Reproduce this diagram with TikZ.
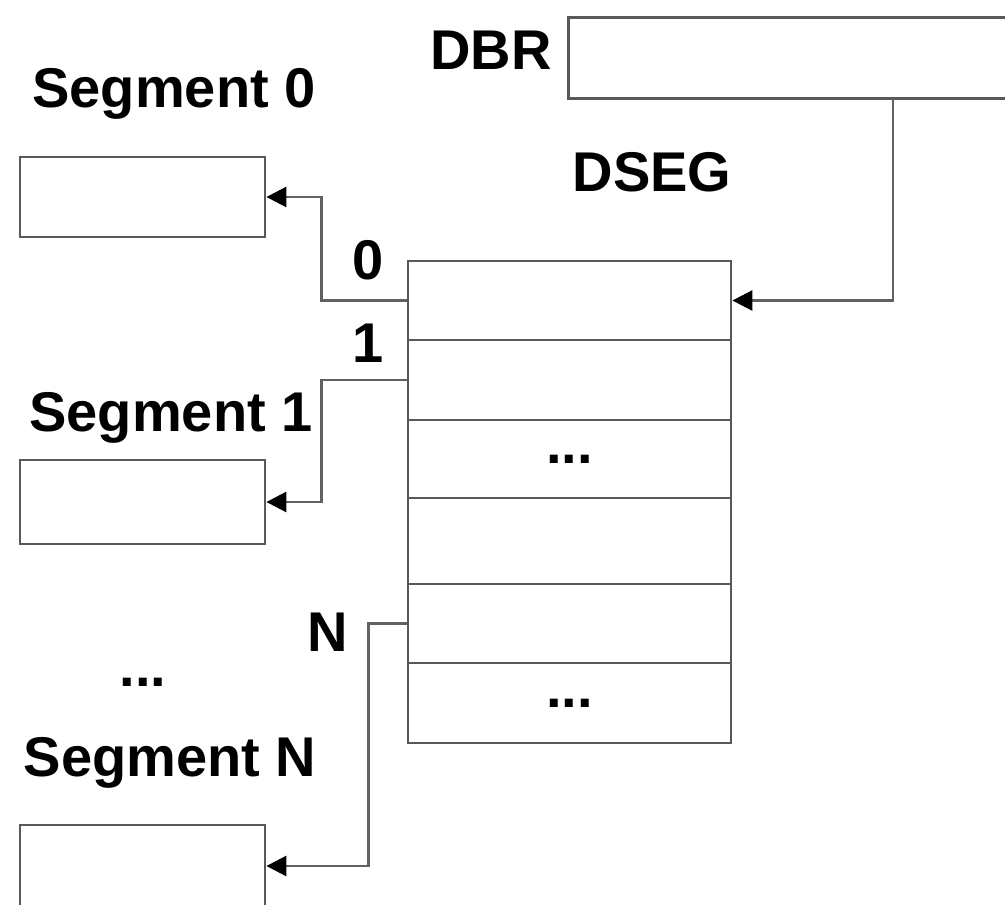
\documentclass[tikz,border=0pt]{standalone}
\usepackage{fontspec}
\setmainfont{Liberation Sans}
\usetikzlibrary{arrows.meta}
\begin{document}
\begin{tikzpicture}[x=1pt,y=-1pt,
  box/.style={draw=black!65,line width=2.8pt,inner sep=0pt,fill=white},
  lbl/.style={inner sep=0pt,font=\fontsize{56}{60}\selectfont\bfseries},
  conn/.style={draw=black!62,line width=2.8pt,-{Triangle[length=20pt,width=20pt,black]}}]
\useasboundingbox (0,0) rectangle (1005,905);
\clip (0,0) rectangle (1005,905);
% DBR register
\node[box,minimum width=460pt,minimum height=81pt,anchor=north west] (dbr) at (567,16) {};
\node[lbl] (dbrl) at (491,50) {DBR};
% DSEG table
\node[lbl] (dsegl) at (652,172) {DSEG};
\node[box,minimum width=323pt,minimum height=79pt] (r0) at (569.5,300.5) {};
\node[box,minimum width=323pt,minimum height=80pt] (r1) at (569.5,380) {};
\node[box,minimum width=323pt,minimum height=78pt] (r2) at (569.5,459) {\fontsize{56}{60}\selectfont\bfseries ...};
\node[box,minimum width=323pt,minimum height=86pt] (r3) at (569.5,541) {};
\node[box,minimum width=323pt,minimum height=79pt] (r4) at (569.5,623.5) {};
\node[box,minimum width=323pt,minimum height=80pt] (r5) at (569.5,703) {\fontsize{56}{60}\selectfont\bfseries ...};
% segments
\node[lbl] (s0l) at (174,94) {Segment 0};
\node[box,minimum width=245pt,minimum height=80pt] (seg0) at (142.5,197) {};
\node[lbl] (s1l) at (171,418) {Segment 1};
\node[box,minimum width=245pt,minimum height=84pt] (seg1) at (142.5,502) {};
\node[lbl] (sdots) at (143,682) {...};
\node[lbl] (sNl) at (170,763) {Segment N};
\node[box,minimum width=245pt,minimum height=82pt] (segN) at (142.5,866) {};
% index labels
\node[lbl] (i0) at (368,260) {0};
\node[lbl] (i1) at (368,343) {1};
\node[lbl] (iN) at (328,632) {N};
% connectors
\coordinate (dbrtap) at (893,97);
\draw[conn] (dbrtap) |- (r0.east);
\draw[conn] (r0.west) -- ++(-85,0) |- (seg0.east);
\draw[conn] (r1.west) -- ++(-85,0) |- (seg1.east);
\draw[conn] (r4.west) -- ++(-38,0) |- (segN.east);
\end{tikzpicture}
\end{document}
